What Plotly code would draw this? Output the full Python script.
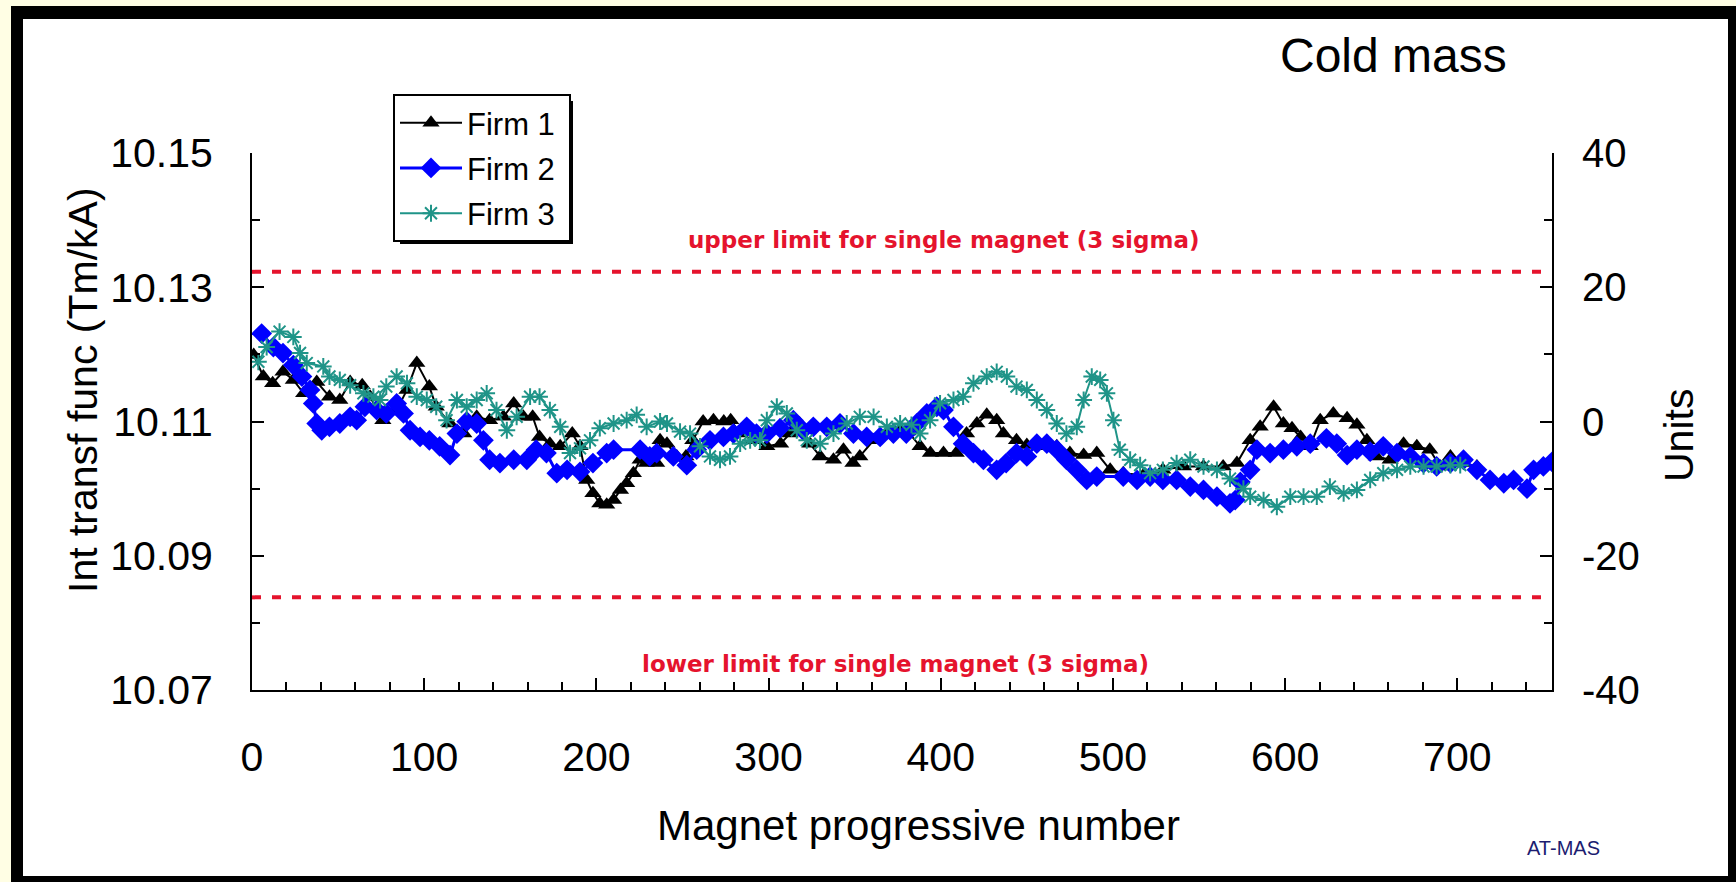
import plotly.graph_objects as go

# ---------------- data ----------------
firm1_x = [1, 6.6, 12, 18, 24, 30, 37.6, 45, 51, 57, 64, 68.6, 76, 84, 90, 95.7, 103, 107, 115, 123,
           130.5, 138, 146, 152, 157.6, 163, 167, 173, 179, 186, 190.5, 194.4, 198, 202, 206, 210, 214,
           217.6, 221.5, 225.4, 229, 235, 237, 241, 246.7, 252, 256, 262, 268, 274, 278, 283.5, 291,
           299, 307, 312.5, 318, 324, 330, 337.7, 343.5, 349, 353, 361, 368.7, 376, 381, 388, 394,
           401.6, 409, 415, 421, 426.7, 432.5, 436.4, 444, 450, 459.7, 467.4, 475, 483, 490.6, 498.4,
           506, 517.7, 529, 541, 552.6, 564, 572, 579.7, 585.5, 593.3, 599, 604, 609, 614.6, 620.4,
           628, 636, 641.7, 647.5, 653, 661, 668.8, 676.5, 684, 690, 696, 703.6, 711.4]
firm1_units = [9.9, 6.7, 5.7, 7.4, 6.2, 4.2, 5.9, 3.7, 3.2, 5.9, 5.4, 3.7, 0.2, 1.7, 4.7, 8.7, 5.2, 2.2, -0.3, -1.8,
               0.7, 0.2, 0.7, 2.7, 0.7, 0.7, -2.3, -3.3, -3.7, -1.8, -3.7, -8.7, -10.7, -12.2, -12.4, -11.7, -10.2,
               -9.2, -7.7, -5.7, -6.2, -6.2, -2.8, -3.3, -5.2, -5.2, -2.8, 0.0, 0.2, 0.0, 0.2, -1.8, -2.8,
               -3.7, -3.3, -1.8, -0.3, -3.3, -5.2, -5.7, -4.2, -6.2, -5.2, -2.8, -1.8, -1.3, -1.5, -3.7, -4.7,
               -4.7, -4.7, -1.8, -0.3, 1.0, 0.2, -1.8, -2.8, -3.5, -3.7, -3.7, -4.7, -5.0, -4.7, -7.2,
               -7.7, -8.0, -7.2, -6.7, -6.7, -6.7, -6.2, -2.8, -0.8, 2.2, -0.3, -1.0, -2.3, -3.7, 0.2,
               1.2, 0.5, -0.5, -2.8, -5.2, -5.7, -3.3, -3.7, -4.2, -6.7, -5.2, -6.2, -6.7]

firm2_x = [5.6, 12.4, 18, 24, 29, 33.7, 35.6, 37.6, 40.5, 45, 51, 57, 60.8, 65.6, 72.4, 78, 84, 88, 91.8,
           97.6, 103, 109, 115, 119, 124.7, 130.5, 134.4, 138, 144, 152, 159.6, 165, 171, 177, 183, 190.5,
           198, 206, 210, 225.4, 231, 235, 244.7, 252.5, 258.3, 266, 273.8, 279.6, 287.3, 293, 299, 306.7,
           314.4, 320, 326, 333.8, 341.5, 349.3, 357, 364.8, 372.5, 380, 386, 391.9, 397.7, 401.6, 407.4,
           413, 419, 424.8, 432.5, 438, 444, 450, 455.8, 461.6, 467.4, 473, 479, 484.8, 490.6, 506, 514,
           521.6, 529, 537, 544.9, 552.6, 560.4, 568, 571, 574, 579.7, 583.6, 591.3, 599, 606.8, 614.6,
           624, 630, 636, 641.7, 649.4, 657, 665, 672.7, 680.4, 688, 696, 703.6, 711.4, 719, 727, 732.7,
           740.5, 744.3, 750, 755]
firm2_units = [13.1, 11.1, 10.2, 8.4, 6.7, 4.7, 2.7, -0.3, -1.3, -0.8, -0.3, 0.7, 0.2, 2.2, 1.7, 1.2, 2.7, 1.2, -1.3,
               -2.3, -2.8, -3.7, -5.0, -1.8, 0.0, -0.3, -2.8, -5.7, -6.2, -5.7, -5.7, -4.2, -4.7, -7.7, -7.2, -7.5,
               -6.2, -4.7, -4.2, -4.2, -5.2, -4.7, -5.2, -6.5, -4.2, -2.8, -2.3, -1.8, -0.8, -1.8, -1.8, -1.0,
               0.2, -1.3, -0.8, -0.8, -0.3, -1.8, -2.3, -2.3, -1.8, -1.8, -0.3, 1.2, 2.2, 1.7, -0.8,
               -3.3, -4.7, -5.7, -7.2, -6.2, -4.7, -5.2, -3.3, -3.3, -4.2, -5.7, -7.2, -8.7, -8.2, -8.2, -8.7,
               -8.2, -8.7, -8.7, -9.7, -10.2, -11.2, -12.2, -11.7, -9.0, -7.2, -4.2, -4.7, -4.2, -3.7, -3.3,
               -2.5, -3.3, -5.0, -4.2, -4.5, -3.7, -4.7, -5.2, -6.2, -6.7, -6.2, -5.7, -7.2, -8.7, -9.2, -8.7,
               -10.0, -7.2, -6.7, -6.0]

firm3_x = [3.7, 8.5, 16, 24, 27.9, 31.8, 41.4, 45, 51, 57, 64.7, 70.5, 74.4, 78, 84, 90, 95.7, 101.5, 107,
           113, 119, 124.7, 130.5, 136.3, 142, 148, 153.7, 161.5, 167, 173, 179, 184.7, 190.5, 196.3, 202,
           210, 217.6, 223.4, 229.2, 237, 241, 248.6, 254.4, 260.2, 266, 271.8, 277.6, 283.5, 289.3, 295,
           299, 304.8, 310.6, 316.4, 322.2, 330, 337.7, 345.4, 353, 361, 368.7, 376.4, 383, 388, 393.8,
           399.6, 407.4, 413, 419, 426.7, 432.5, 438.4, 444, 450, 455.8, 461.6, 467.4, 473, 479, 483,
           487.7, 492.6, 496.5, 500.3, 504, 510, 515.8, 521.6, 529, 537, 544.9, 552.6, 560.4, 568, 575.8,
           579.7, 587.5, 595.2, 603, 610.7, 618.4, 626, 634, 641.7, 649.4, 657, 665, 672.7, 680.4, 688,
           696, 701.7]
firm3_units = [8.9, 11.1, 13.4, 12.6, 10.2, 8.7, 8.2, 6.7, 6.2, 5.4, 4.2, 3.7, 3.2, 5.2, 6.7, 5.7, 3.7, 3.2, 2.2,
               0.2, 3.2, 2.2, 3.2, 4.2, 1.7, -1.3, 0.7, 3.7, 3.7, 1.7, -0.8, -4.7, -4.0, -2.8, -1.0,
               -0.3, 0.2, 1.0, -0.8, 0.0, -0.3, -1.5, -1.8, -3.7, -5.2, -5.7, -5.2, -3.3, -2.8, -2.8,
               0.2, 2.2, 1.2, -1.3, -2.8, -3.3, -1.8, -0.3, 0.7, 0.7, -0.8, -0.3, -0.5, -1.8, 0.2,
               2.7, 3.2, 3.7, 5.7, 6.7, 7.4, 6.7, 5.2, 4.7, 3.2, 1.7, -0.3, -1.8, -0.8, 3.2,
               6.7, 6.2, 4.2, 0.2, -4.2, -5.7, -6.5, -7.7, -7.2, -6.2, -5.7, -6.7, -7.2, -8.5, -10.0,
               -11.2, -11.7, -12.7, -11.2, -11.2, -11.2, -9.7, -10.7, -10.2, -8.7, -7.7, -7.2, -6.7, -6.7, -6.7,
               -6.5, -6.5]

# reference value of 0 units and unit size (Tm/kA)
ref_value = 10.11
unit_size = 0.001

upper_limit = 10.1323
lower_limit = 10.0838

y_ticks = [10.07, 10.09, 10.11, 10.13, 10.15]
y2_ticks = [-40, -20, 0, 20, 40]
y2_labels = ["-40", "-20", "0", "20", "40"]
x_ticks = [0, 100, 200, 300, 400, 500, 600, 700]
series_names = ["Firm 1", "Firm 2", "Firm 3"]

firm1_y = [ref_value + u * unit_size for u in firm1_units]
firm2_y = [ref_value + u * unit_size for u in firm2_units]
firm3_y = [ref_value + u * unit_size for u in firm3_units]

# ---------------- layout geometry (pixels) ----------------
W, H = 1736, 882
L, R, T, B = 252, 1552, 153, 690
PW, PH = R - L, B - T


def px(xp):
    return (xp - L) / PW


def py(yp):
    return (B - yp) / PH


FONT = "Liberation Sans, Arial, sans-serif"
RED = "#E5132D"
TEAL = "#1F9488"
PAD = "\u00a0"  # small right padding inside the legend box

fig = go.Figure()

fig.add_trace(go.Scatter(
    x=firm1_x, y=firm1_y, name=series_names[0] + PAD, mode="lines+markers", legendgroup="f1",
    line=dict(color="black", width=2),
    marker=dict(symbol="triangle-up", size=15, color="black"),
))
fig.add_trace(go.Scatter(
    x=firm2_x, y=firm2_y, name=series_names[1] + PAD, mode="lines+markers", legendgroup="f2",
    line=dict(color="#0000FF", width=3),
    marker=dict(symbol="diamond", size=16, color="#0000FF"),
))
fig.add_trace(go.Scatter(
    x=firm3_x, y=firm3_y, name=series_names[2] + PAD, mode="lines+markers", legendgroup="f3",
    line=dict(color=TEAL, width=2),
    marker=dict(symbol="asterisk-open", size=14, color=TEAL, line=dict(color=TEAL, width=2)),
))
# invisible trace so that the right (units) axis is drawn
fig.add_trace(go.Scatter(
    x=[x_ticks[0]], y=[y2_ticks[2]], yaxis="y2", mode="markers",
    marker=dict(opacity=0), showlegend=False, hoverinfo="skip",
))

shapes = [
    # black frame and white panel
    dict(type="rect", xref="paper", yref="paper", layer="below",
         x0=px(11), x1=px(1745), y0=py(890), y1=py(6),
         fillcolor="black", line=dict(width=0)),
    dict(type="rect", xref="paper", yref="paper", layer="below",
         x0=px(23), x1=px(1728), y0=py(876), y1=py(19),
         fillcolor="white", line=dict(width=0)),
    # legend shadow
    dict(type="rect", xref="paper", yref="paper", layer="above",
         x0=px(400), x1=px(573), y0=py(244), y1=py(101),
         fillcolor="black", line=dict(width=0)),
    # limit lines
    dict(type="line", xref="paper", yref="y", x0=0, x1=1, y0=upper_limit, y1=upper_limit,
         line=dict(color=RED, width=4, dash="9px,11px")),
    dict(type="line", xref="paper", yref="y", x0=0, x1=1, y0=lower_limit, y1=lower_limit,
         line=dict(color=RED, width=4, dash="9px,11px")),
]


def ann(text, x, y, size, color="black", family=FONT, angle=0, weight="normal"):
    return dict(text=text, x=px(x), y=py(y), xref="paper", yref="paper",
                xanchor="center", yanchor="middle", textangle=angle, showarrow=False,
                font=dict(family=family, size=size, color=color, weight=weight))


annotations = [
    ann("Cold mass", 1393, 55, 48),
    ann("upper limit for single magnet (3 sigma)", 944, 240, 23, RED, "DejaVu Sans", weight="bold"),
    ann("lower limit for single magnet (3 sigma)", 895, 664, 23, RED, "DejaVu Sans", weight="bold"),
    ann("Int transf func (Tm/kA)", 83, 390, 41, angle=-90),
    ann("Units", 1679, 436, 41, angle=-90),
    ann("Magnet progressive number", 918, 825, 42),
    ann("AT-MAS", 1563, 848, 20, "#1C1C70"),
]

fig.update_layout(
    width=W, height=H,
    margin=dict(l=L, r=W - R, t=T, b=H - B, pad=0),
    paper_bgcolor="#FFFEE4",
    plot_bgcolor="rgba(0,0,0,0)",
    font=dict(family=FONT, color="black"),
    showlegend=True,
    legend=dict(
        x=px(393), y=py(94), xanchor="left", yanchor="top",
        bgcolor="white", bordercolor="black", borderwidth=2,
        font=dict(family=FONT, size=31, color="black"),
        itemwidth=62, tracegroupgap=2,
    ),
    xaxis=dict(
        range=[0, 755], tickvals=x_ticks, ticks="inside", ticklen=12, tickwidth=2,
        tickcolor="black", showline=True, linecolor="black", linewidth=2,
        showgrid=False, zeroline=False, mirror=False,
        tickfont=dict(family=FONT, size=41, color="black"),
        ticklabelstandoff=30,
        minor=dict(dtick=20, tick0=0, ticks="inside", ticklen=8, tickwidth=2, tickcolor="black", showgrid=False),
    ),
    yaxis=dict(
        range=[10.07, 10.15], tickvals=y_ticks, tickformat=".2f", ticks="inside", ticklen=12,
        tickwidth=2, tickcolor="black", showline=True, linecolor="black", linewidth=2,
        showgrid=False, zeroline=False,
        tickfont=dict(family=FONT, size=41, color="black"),
        ticklabelstandoff=29,
        minor=dict(dtick=0.01, tick0=10.07, ticks="inside", ticklen=8, tickwidth=2, tickcolor="black", showgrid=False),
    ),
    yaxis2=dict(
        range=[-40, 40], tickvals=y2_ticks, ticktext=y2_labels, overlaying="y", side="right",
        ticks="inside", ticklen=12, tickwidth=2, tickcolor="black", showline=True,
        linecolor="black", linewidth=2, showgrid=False, zeroline=False,
        tickfont=dict(family=FONT, size=40, color="black"),
        ticklabelstandoff=20,
        minor=dict(dtick=10, tick0=-40, ticks="inside", ticklen=8, tickwidth=2, tickcolor="black", showgrid=False),
    ),
    shapes=shapes,
    annotations=annotations,
)

fig.write_html("out.html", config={"displayModeBar": False},
               post_script="document.body.style.margin='0';")
